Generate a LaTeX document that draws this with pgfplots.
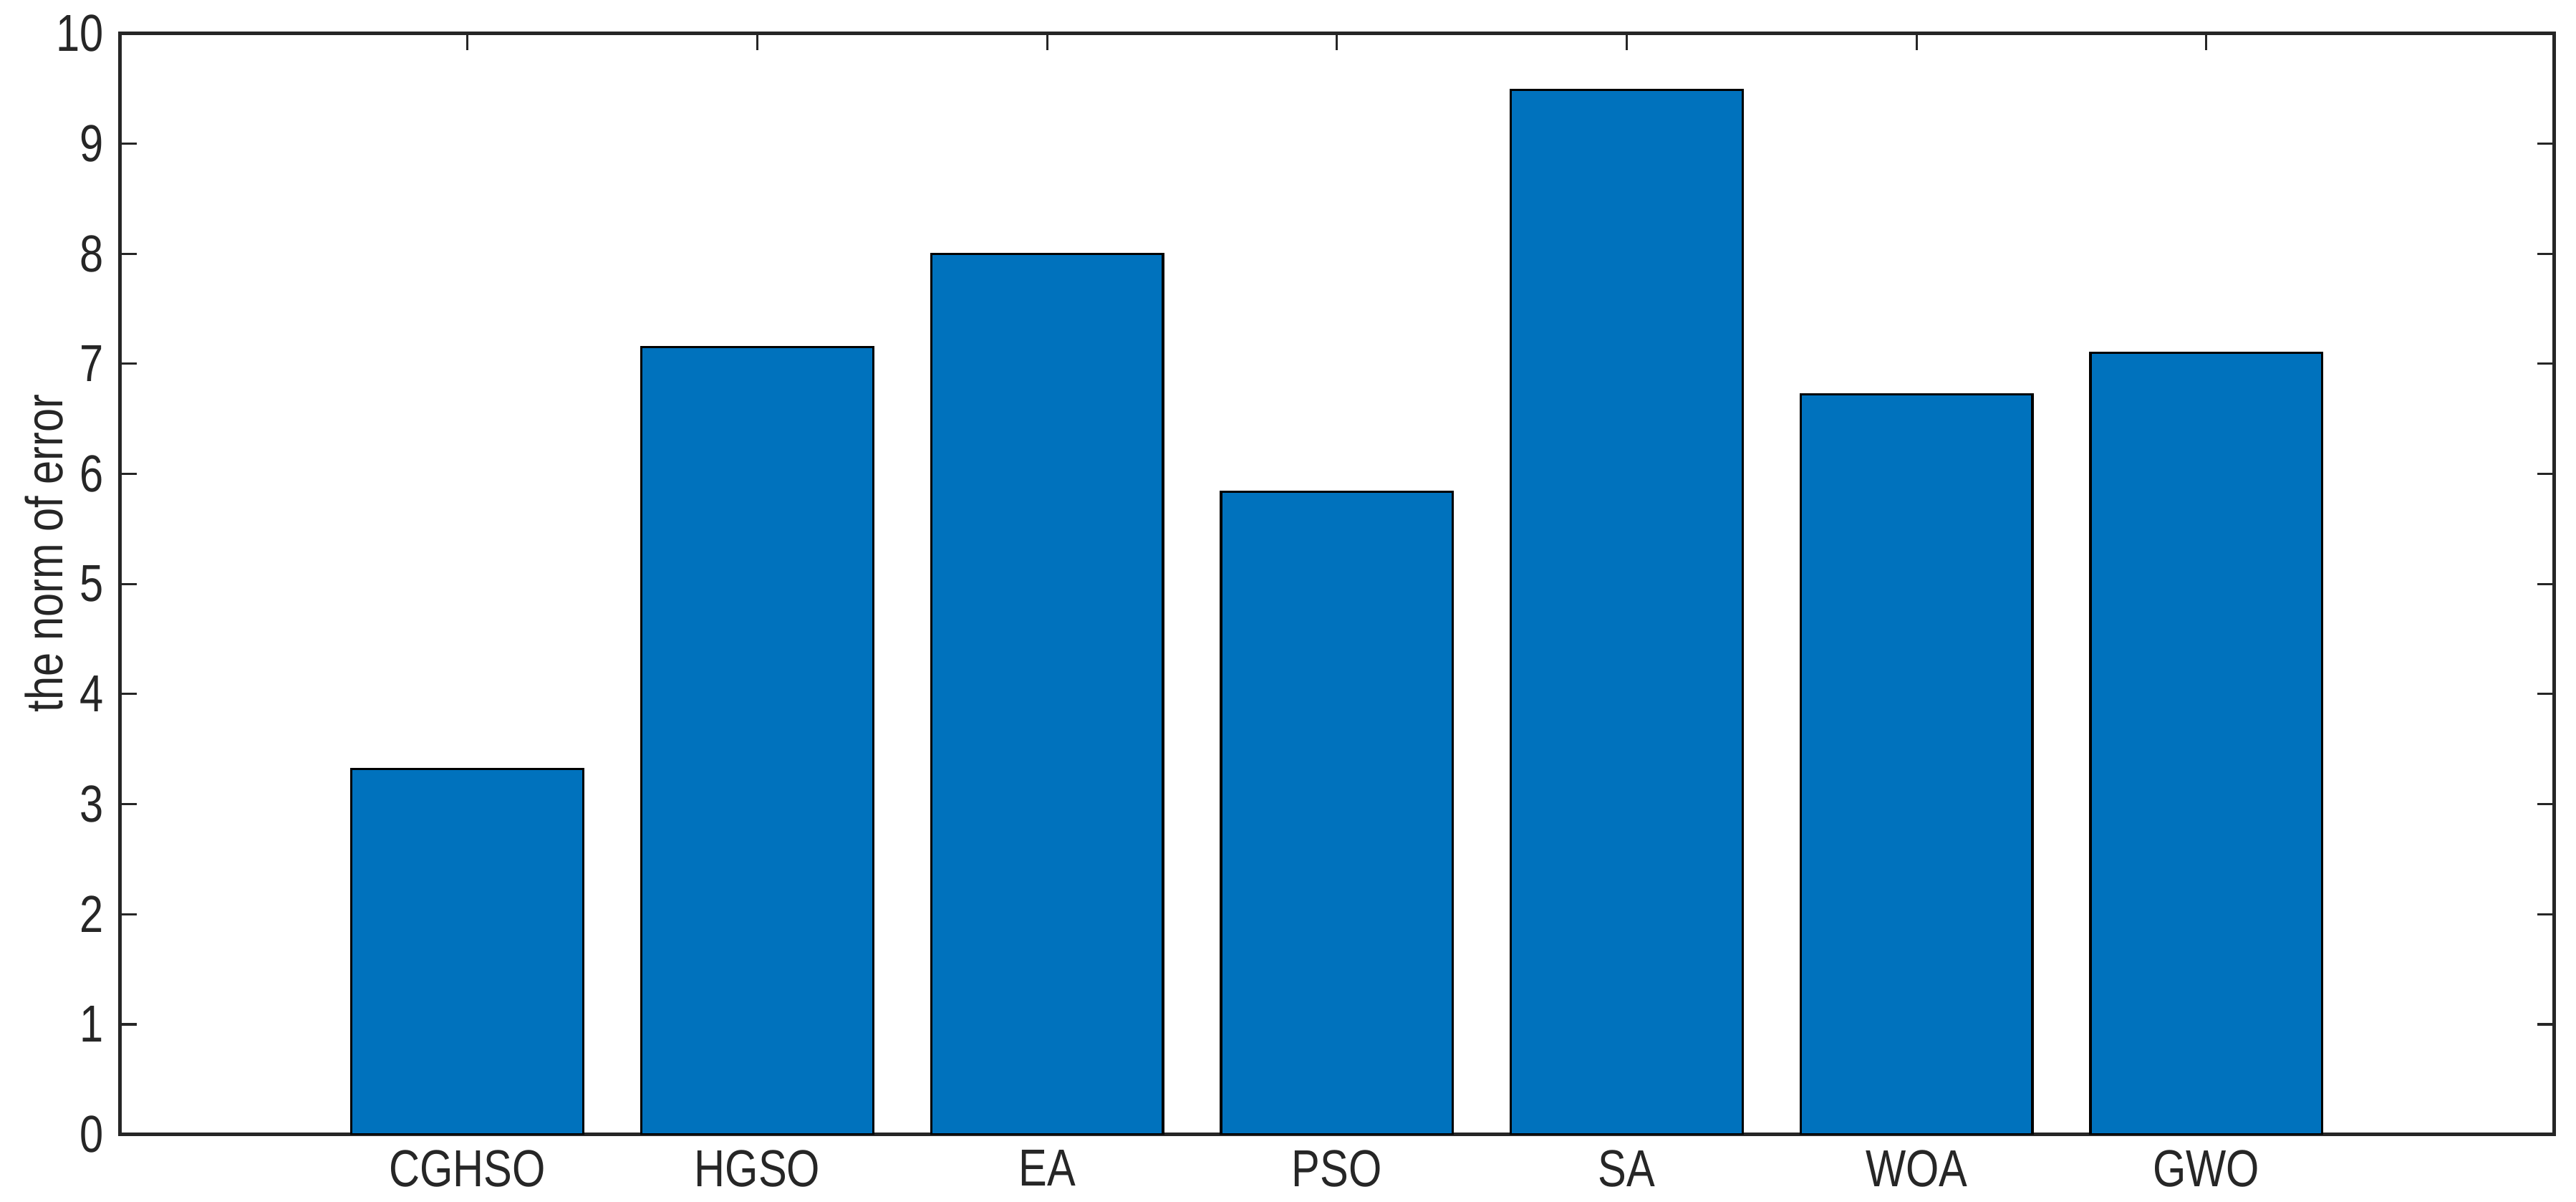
\documentclass[border=0pt]{standalone}
\usepackage{fontspec}
\setmainfont{Liberation Sans}[FakeStretch=0.82]
\usepackage{pgfplots}
\pgfplotsset{compat=1.18}
\definecolor{mblue}{RGB}{0,114,189}
\definecolor{axgray}{RGB}{38,38,38}
\begin{document}
\begin{tikzpicture}
\begin{axis}[
  scale only axis,
  width=18.91cm, height=8.55cm,
  xmin=-0.2, xmax=8.2,
  ymin=0, ymax=10,
  xtick={1,2,3,4,5,6,7},
  xticklabels={CGHSO,HGSO,EA,PSO,SA,WOA,GWO},
  ytick={0,1,...,10},
  tick align=inside,
  major tick length=0.13cm,
  axis line style={axgray, line width=0.8pt},
  tick style={axgray, line width=0.5pt},
  ticklabel style={font=\fontsize{11.5}{13}\selectfont, text=axgray},
  /pgf/number format/assume math mode=true,
  ylabel={the norm of error},
  ylabel style={font=\fontsize{11.5}{13}\selectfont, text=axgray, at={(axis description cs:-0.031,0.528)}, anchor=center},
]
\addplot[ybar, bar width=0.8, fill=mblue, draw=black, line width=0.5pt] coordinates {
  (1,3.32) (2,7.15) (3,8.00) (4,5.84) (5,9.49) (6,6.72) (7,7.10)
};
\end{axis}
\pgfresetboundingbox
\path ([xshift=-0.93cm,yshift=-0.52cm]current axis.south west) rectangle ([xshift=0.17cm,yshift=0.26cm]current axis.north east);
\end{tikzpicture}
\end{document}
